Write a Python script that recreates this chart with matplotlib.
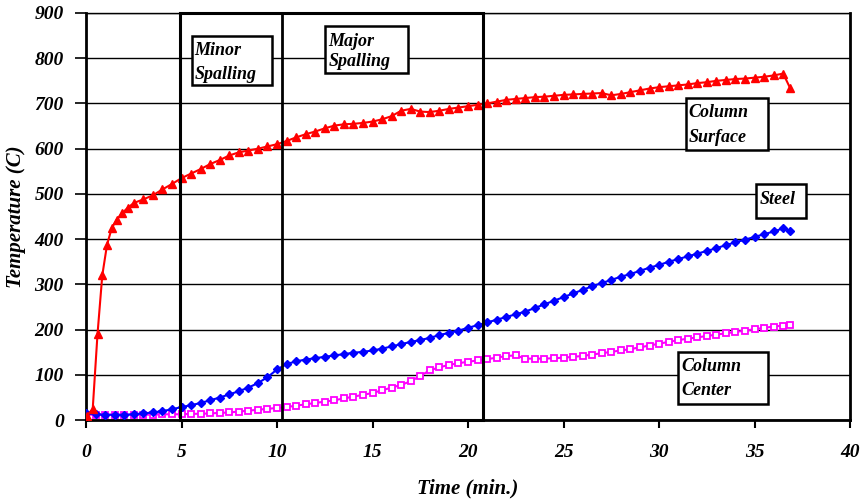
import matplotlib
matplotlib.use("Agg")
import matplotlib.pyplot as plt
from matplotlib.patches import Rectangle

# ---------------- data ----------------
t_surface = [0.05, 0.35, 0.6, 0.85, 1.1, 1.35, 1.6, 1.9, 2.2, 2.5, 3.0, 3.5, 4.0, 4.5,
             5.0, 5.5, 6.0, 6.5, 7.0, 7.5, 8.0, 8.5, 9.0, 9.5, 10.0, 10.5, 11.0, 11.5,
             12.0, 12.5, 13.0, 13.5, 14.0, 14.5, 15.0, 15.5, 16.0, 16.5, 17.0, 17.5,
             18.0, 18.5, 19.0, 19.5, 20.0, 20.5, 21.0, 21.5, 22.0, 22.5, 23.0, 23.5,
             24.0, 24.5, 25.0, 25.5, 26.0, 26.5, 27.0, 27.5, 28.0, 28.5, 29.0, 29.5,
             30.0, 30.5, 31.0, 31.5, 32.0, 32.5, 33.0, 33.5, 34.0, 34.5, 35.0, 35.5,
             36.0, 36.5, 36.85]
column_surface = [10, 25, 190, 320, 388, 425, 443, 458, 470, 480, 488, 497, 510, 522,
                  535, 545, 555, 566, 575, 585, 592, 596, 600, 605, 610, 617, 625, 632,
                  638, 645, 651, 654, 655, 657, 660, 665, 672, 684, 688, 682,
                  681, 684, 688, 691, 694, 697, 700, 704, 708, 710, 712, 714,
                  715, 717, 719, 720, 721, 722, 723, 718, 721, 725, 729, 733,
                  736, 738, 740, 742, 745, 747, 750, 752, 754, 755, 757, 759,
                  762, 766, 735]

t_inner = [0.0, 0.5, 1.0, 1.5, 2.0, 2.5, 3.0, 3.5, 4.0, 4.5, 5.0, 5.5, 6.0, 6.5,
           7.0, 7.5, 8.0, 8.5, 9.0, 9.5, 10.0, 10.5, 11.0, 11.5, 12.0, 12.5, 13.0,
           13.5, 14.0, 14.5, 15.0, 15.5, 16.0, 16.5, 17.0, 17.5, 18.0, 18.5, 19.0,
           19.5, 20.0, 20.5, 21.0, 21.5, 22.0, 22.5, 23.0, 23.5, 24.0, 24.5, 25.0,
           25.5, 26.0, 26.5, 27.0, 27.5, 28.0, 28.5, 29.0, 29.5, 30.0, 30.5, 31.0,
           31.5, 32.0, 32.5, 33.0, 33.5, 34.0, 34.5, 35.0, 35.5, 36.0, 36.5, 36.85]
steel = [15, 13, 12, 12, 12, 13, 15, 17, 20, 24, 29, 33, 38, 44,
         50, 57, 64, 72, 82, 95, 112, 124, 130, 134, 137, 140, 143,
         146, 149, 151, 154, 158, 163, 168, 173, 177, 182, 188, 193,
         198, 204, 210, 216, 222, 228, 234, 240, 248, 256, 264, 272,
         280, 288, 296, 303, 310, 317, 323, 330, 337, 343, 350, 356,
         362, 368, 374, 380, 387, 393, 399, 405, 411, 417, 424, 418]
column_center = [12, 12, 12, 12, 12, 12, 12, 12, 13, 13, 13, 14, 14, 15,
                 16, 17, 19, 21, 23, 25, 27, 29, 32, 35, 38, 41, 44,
                 48, 52, 56, 60, 66, 72, 78, 86, 98, 110, 117, 122,
                 126, 129, 132, 135, 138, 142, 143, 136, 136, 136, 137, 138,
                 140, 142, 145, 148, 151, 154, 157, 161, 165, 169, 173, 177,
                 180, 183, 186, 189, 192, 195, 198, 201, 204, 207, 209, 210]

x_ticks = [0, 5, 10, 15, 20, 25, 30, 35, 40]
y_ticks = [0, 100, 200, 300, 400, 500, 600, 700, 800, 900]

# spalling phases (minutes)
minor_start, major_start, major_end = 4.93, 10.27, 20.8

# ---------------- figure ----------------
plt.rcParams['font.family'] = ['Liberation Serif', 'DejaVu Serif']
FONT = dict(fontweight='bold', fontstyle='italic')

fig = plt.figure(figsize=(8.63, 4.99), dpi=100)
ax = fig.add_axes([0.0997, 0.158, 0.8853, 0.816])
ax.set_xlim(0, 40)
ax.set_ylim(0, 900)

ax.set_yticks(y_ticks)
ax.set_xticks(x_ticks)
ax.yaxis.grid(True, color='black', linewidth=1.0, zorder=0)
ax.set_axisbelow(True)

for s in ['left', 'bottom', 'right']:
    ax.spines[s].set_linewidth(2.0)
ax.spines['top'].set_linewidth(1.0)

ax.tick_params(axis='y', direction='out', length=8, width=1.2, pad=8, labelsize=14)
ax.tick_params(axis='x', direction='out', length=6, width=1.5, pad=11, labelsize=14)
for lab in ax.get_xticklabels() + ax.get_yticklabels():
    lab.set_fontweight('bold')
    lab.set_fontstyle('italic')

ax.set_xlabel('Time (min.)', fontsize=15, labelpad=13, **FONT)
ax.set_ylabel('Temperature (C)', fontsize=15, labelpad=6, **FONT)

# data series
ax.plot(t_inner, column_center, color='#ff00ff', linewidth=1.5, marker='s', markersize=4,
        markerfacecolor='white', markeredgecolor='#ff00ff', markeredgewidth=1.3, zorder=3)
ax.plot(t_inner, steel, color='#0000ff', linewidth=1.5, marker='D', markersize=4.5,
        markerfacecolor='#0000ff', markeredgecolor='#0000ff', zorder=3)
ax.plot(t_surface, column_surface, color='#ff0000', linewidth=1.5, marker='^', markersize=6,
        markerfacecolor='#ff0000', markeredgecolor='#ff0000', zorder=4)

# spalling rectangle
ax.add_patch(Rectangle((minor_start, 0), major_end - minor_start, 900, fill=False,
                       edgecolor='black', linewidth=2.2, clip_on=False, zorder=5))
ax.plot([major_start, major_start], [0, 900], color='black', linewidth=2.0, zorder=5)

# annotation boxes
def box(x0, x1, y0, y1, lines, tx, tys):
    ax.add_patch(Rectangle((x0, y0), x1 - x0, y1 - y0, facecolor='white',
                           edgecolor='black', linewidth=1.8, zorder=6))
    for txt, ty in zip(lines, tys):
        ax.text(tx, ty, txt, ha='left', va='center', fontsize=13, zorder=7, **FONT)

box(5.53, 9.75, 740, 850, ['Minor', 'Spalling'], 5.68, [818, 763])
box(12.53, 16.86, 767, 872, ['Major', 'Spalling'], 12.7, [838, 792])
box(31.4, 35.7, 597, 713, ['Column', 'Surface'], 31.55, [681, 624])
box(35.06, 37.7, 447, 523, ['Steel'], 35.25, [488])
box(30.98, 35.72, 35, 151, ['Column', 'Center'], 31.15, [119, 66])

fig.savefig('out.png', dpi=100)
